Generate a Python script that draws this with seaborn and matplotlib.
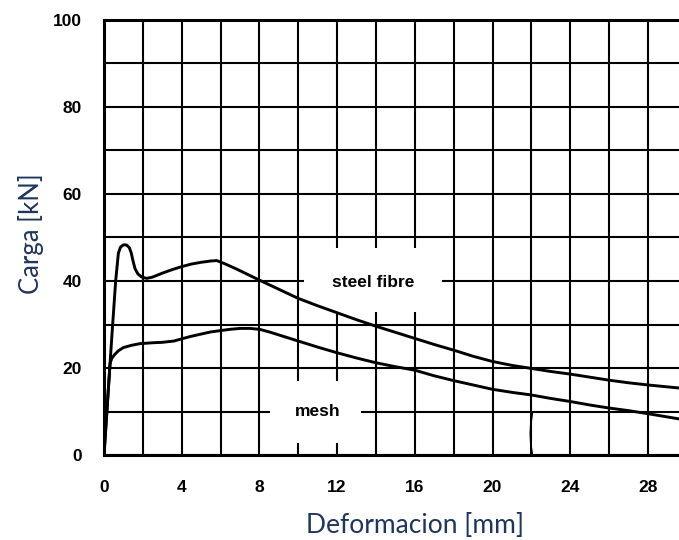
import matplotlib
matplotlib.use("Agg")
import matplotlib.pyplot as plt
from matplotlib.patches import Rectangle
import seaborn as sns
import pandas as pd

# ---- data ----
steel_x = [0.0, 0.2, 0.4, 0.6, 0.74, 0.85, 1.0, 1.15, 1.3, 1.4, 1.5, 1.6, 1.75, 1.95, 2.2, 2.5,
           3.0, 3.5, 4.0, 4.5, 5.0, 5.5, 5.8, 6.2, 6.8, 7.4, 8.0, 9.0, 10.0, 11.0, 12.0, 13.0,
           14.0, 15.0, 16.0, 17.0, 18.0, 19.0, 20.0, 21.0, 22.0, 23.0, 24.0, 25.0, 26.0, 27.0,
           28.0, 29.6]
steel_y = [0.0, 13.5, 27.0, 40.0, 46.4, 47.8, 48.3, 48.3, 47.7, 46.5, 44.5, 42.8, 41.6, 40.9, 40.6, 40.9,
           41.8, 42.6, 43.3, 43.9, 44.3, 44.6, 44.7, 44.0, 42.8, 41.5, 40.2, 38.1, 36.0, 34.3, 32.7, 31.1,
           29.6, 28.2, 26.8, 25.4, 24.1, 22.7, 21.5, 20.6, 19.9, 19.2, 18.6, 17.9, 17.2, 16.6,
           16.1, 15.4]

mesh_x = [0.0, 0.2, 0.31, 0.4, 0.55, 0.75, 1.0, 1.4, 1.85, 2.5, 3.0, 3.6, 4.0, 4.5, 5.0, 5.5,
          6.0, 6.5, 7.0, 7.5, 8.0, 8.5, 9.0, 9.5, 10.0, 11.0, 12.0, 13.0, 14.0, 15.0, 16.0, 17.0,
          18.0, 19.0, 20.0, 21.0, 22.0, 23.0, 24.0, 25.0, 26.0, 27.0, 28.0, 29.6]
mesh_y = [0.0, 13.5, 21.0, 22.2, 23.1, 24.0, 24.7, 25.2, 25.6, 25.8, 25.9, 26.2, 26.7, 27.3, 27.8, 28.3,
          28.6, 28.9, 29.1, 29.1, 28.9, 28.3, 27.6, 26.9, 26.2, 24.8, 23.5, 22.3, 21.2, 20.3, 19.5, 18.2,
          17.1, 16.1, 15.1, 14.4, 13.8, 13.0, 12.3, 11.5, 10.8, 10.2, 9.5, 8.3]

mark_x = [22.05, 21.98, 21.95, 21.98, 22.05]
mark_y = [9.8, 7.5, 5.0, 2.0, 0.0]

x_ticks = list(range(0, 30, 2))
x_labels = [str(v) if v % 4 == 0 else "" for v in x_ticks]
y_ticks = list(range(0, 101, 10))
y_labels = [str(v) if v % 20 == 0 else "" for v in y_ticks]

series_labels = ["steel fibre", "mesh"]
label_pos = [(13.85, 39.7), (11.0, 10.0)]
label_box = [(10.32, 32.9, 7.09, 14.8), (8.56, 2.8, 4.68, 14.2)]

df = pd.concat([
    pd.DataFrame({"x": steel_x, "y": steel_y, "s": "steel fibre"}),
    pd.DataFrame({"x": mesh_x, "y": mesh_y, "s": "mesh"}),
])

# ---- figure ----
sns.set_theme(style="white")
plt.rcParams["font.family"] = ["Liberation Sans", "DejaVu Sans"]

fig = plt.figure(figsize=(6.79, 5.40), dpi=100)
ax = fig.add_axes([104 / 679, 85 / 540, 575 / 679, 435 / 540])

ax.set_axisbelow(True)
ax.grid(True, color="black", linewidth=1.5)

for (bx, by, bw, bh) in label_box:
    ax.add_patch(Rectangle((bx, by), bw, bh, facecolor="white", edgecolor="none", zorder=1.2))

sns.lineplot(data=df, x="x", y="y", units="s", estimator=None, sort=False,
             color="black", linewidth=2.1, ax=ax, zorder=3)
sns.lineplot(x=mark_x, y=mark_y, sort=False, estimator=None, color="black",
             linewidth=1.3, ax=ax, zorder=3)

for lab, (tx, ty) in zip(series_labels, label_pos):
    ax.text(tx, ty, lab, ha="center", va="center", fontsize=12.5, fontweight="bold",
            color="black", zorder=4)

ax.set_xlim(0, 29.6)
ax.set_ylim(0, 100)
ax.set_xticks(x_ticks)
ax.set_xticklabels(x_labels)
ax.set_yticks(y_ticks)
ax.set_yticklabels(y_labels)
ax.tick_params(axis="both", length=0, labelsize=12.5, labelcolor="black")
ax.tick_params(axis="x", pad=18)
ax.tick_params(axis="y", pad=16)
for t in ax.get_xticklabels() + ax.get_yticklabels():
    t.set_fontweight("bold")

for side in ["left", "bottom", "top"]:
    ax.spines[side].set_visible(True)
    ax.spines[side].set_color("black")
    ax.spines[side].set_linewidth(2.2)
ax.spines["right"].set_visible(False)

lab_col = "#1f3560"
ax.set_xlabel("Deformacion [mm]", fontsize=19, family=["Lato", "DejaVu Sans"], color=lab_col,
              labelpad=13, x=0.541)
ax.set_ylabel("Carga [kN]", fontsize=18.5, family=["Lato", "DejaVu Sans"], color=lab_col,
              labelpad=6, y=0.51)

fig.savefig("out.png", dpi=100)
